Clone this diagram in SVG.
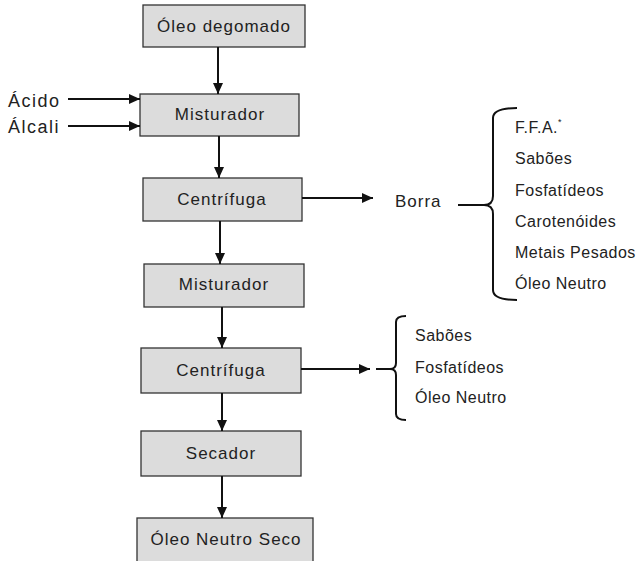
<svg xmlns="http://www.w3.org/2000/svg" width="640" height="561" viewBox="0 0 640 561">
<defs>
<marker id="ah" markerWidth="12" markerHeight="10" refX="11" refY="5" orient="auto" markerUnits="userSpaceOnUse">
<path d="M0,0 L11,5 L0,10 Z" fill="#111"/>
</marker>
<style>
.box{fill:#dcdcdc;stroke:#333;stroke-width:1.3}
.bt{font-family:"Liberation Sans",Arial,sans-serif;font-size:17px;letter-spacing:1px;fill:#222;text-anchor:middle}
.lt{font-family:"Liberation Sans",Arial,sans-serif;font-size:18px;letter-spacing:1.5px;fill:#222}
.it{font-family:"Liberation Sans",Arial,sans-serif;font-size:16px;letter-spacing:0.5px;fill:#222}
.ln{stroke:#111;stroke-width:2;fill:none}
.br{stroke:#111;stroke-width:2;fill:none}
</style>
</defs>
<rect width="640" height="561" fill="#fff"/>
<g id="n1"><rect class="box" x="143" y="5" width="162" height="42"/><text class="bt" x="224" y="32">Óleo degomado</text></g>
<g id="n2"><rect class="box" x="140" y="94" width="159" height="42"/><text class="bt" x="220" y="120">Misturador</text></g>
<g id="n3"><rect class="box" x="143" y="178" width="159" height="43"/><text class="bt" x="222" y="205">Centrífuga</text></g>
<g id="n4"><rect class="box" x="144" y="264" width="160" height="43"/><text class="bt" x="224" y="290">Misturador</text></g>
<g id="n5"><rect class="box" x="141" y="348" width="160" height="45"/><text class="bt" x="221" y="376">Centrífuga</text></g>
<g id="n6"><rect class="box" x="141" y="431" width="160" height="45"/><text class="bt" x="221" y="459">Secador</text></g>
<g id="n7"><rect class="box" x="137" y="518" width="176" height="48"/><text class="bt" x="226" y="545">Óleo Neutro Seco</text></g>
<g id="inputs">
<text class="lt" x="8" y="107">Ácido</text>
<text class="lt" x="8" y="133">Álcali</text>
</g>
<g id="borra">
<text class="lt" x="395" y="207" style="font-size:17px;letter-spacing:1px">Borra</text>
<path class="br" d="M517,108 Q493,108 493,118 L493,196 Q493,205 484,205 Q493,205 493,214 L493,290 Q493,300 517,300"/>
<text class="it" x="515" y="133">F.F.A.<tspan dy="-8" font-size="9">*</tspan></text>
<text class="it" x="515" y="164">Sabões</text>
<text class="it" x="515" y="196">Fosfatídeos</text>
<text class="it" x="515" y="227">Carotenóides</text>
<text class="it" x="515" y="258">Metais Pesados</text>
<text class="it" x="515" y="289">Óleo Neutro</text>
</g>
<g id="residuo2">
<path class="br" d="M406,316 Q396,316 396,322 L396,363 Q396,369 390,369 Q396,369 396,375 L396,414 Q396,420 406,420"/>
<text class="it" x="415" y="341">Sabões</text>
<text class="it" x="415" y="373">Fosfatídeos</text>
<text class="it" x="415" y="403">Óleo Neutro</text>
</g>
<g id="connectors">
<line class="ln" x1="218" y1="47" x2="218" y2="94" marker-end="url(#ah)"/>
<line class="ln" x1="68" y1="99" x2="140" y2="99" marker-end="url(#ah)"/>
<line class="ln" x1="68" y1="126" x2="140" y2="126" marker-end="url(#ah)"/>
<line class="ln" x1="219" y1="136" x2="219" y2="178" marker-end="url(#ah)"/>
<line class="ln" x1="302" y1="198" x2="373" y2="198" marker-end="url(#ah)"/>
<line class="ln" x1="220" y1="221" x2="220" y2="264" marker-end="url(#ah)"/>
<line class="ln" x1="222" y1="307" x2="222" y2="348" marker-end="url(#ah)"/>
<line class="ln" x1="301" y1="369" x2="370" y2="369" marker-end="url(#ah)"/>
<line class="ln" x1="376" y1="369" x2="390" y2="369"/>
<line class="ln" x1="222" y1="393" x2="222" y2="431" marker-end="url(#ah)"/>
<line class="ln" x1="222" y1="476" x2="222" y2="518" marker-end="url(#ah)"/>
<line class="ln" x1="458" y1="205" x2="484" y2="205"/>
</g>
</svg>
